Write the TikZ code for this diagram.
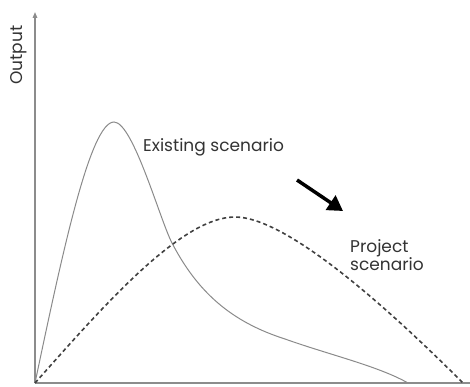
\documentclass[tikz,border=0pt]{standalone}
\usepackage{fontspec}
\setmainfont{Poppins}
\usetikzlibrary{arrows.meta}
\definecolor{axisgray}{HTML}{8C8C8C}
\definecolor{curvegray}{HTML}{8A8A8A}
\definecolor{txt}{HTML}{333333}
\tikzset{
  axisline/.style={draw=axisgray, line width=1.4pt},
  existcurve/.style={draw=curvegray, line width=1pt},
  projcurve/.style={draw=black!75, line width=1.6pt, dash pattern=on 4pt off 3pt},
  lbl/.style={text=txt, font=\fontsize{17}{18}\selectfont, inner sep=0pt},
  bigarrow/.style={draw=black, line width=3.5pt, -{Triangle[length=15pt,width=17pt]}}
}
\begin{document}
\begin{tikzpicture}[x=1pt,y=-1pt]
\useasboundingbox (0,0) rectangle (470,387);
\coordinate (O) at (35,383);
\coordinate (Ytop) at (35,12);
\coordinate (Xend) at (470,383);
\draw[axisline, -{Triangle[length=6pt,width=4.5pt]}] (O) -- (Ytop);
\draw[axisline] (O) -- (Xend);
% existing scenario
\coordinate (Epk) at (114,122);
\coordinate (Ex1) at (172,243);
\coordinate (Ex2) at (285,339);
\coordinate (Eend) at (408,383);
\draw[existcurve] (O) .. controls (62,255) and (90,122) .. (Epk)
  .. controls (133,122) and (160,220) .. (Ex1)
  .. controls (198,293) and (232,322) .. (Ex2)
  .. controls (330,355) and (378,366) .. (Eend);
% project scenario
\coordinate (Ppk) at (235,217);
\coordinate (Pend) at (463,383);
\draw[projcurve] (O) .. controls (100,310) and (180,217) .. (Ppk)
  .. controls (290,217) and (400,320) .. (Pend);
\coordinate (A1) at (297,180);
\coordinate (A2) at (343,211);
\draw[bigarrow] (A1) -- (A2);
\node[lbl, anchor=base west] (exist) at (143,152) {Existing scenario};
\node[lbl, anchor=north west, align=left] (proj) at (350,239) {Project\\scenario};
\node[lbl, rotate=90] (out) at (19,55) {Output};
\end{tikzpicture}
\end{document}
